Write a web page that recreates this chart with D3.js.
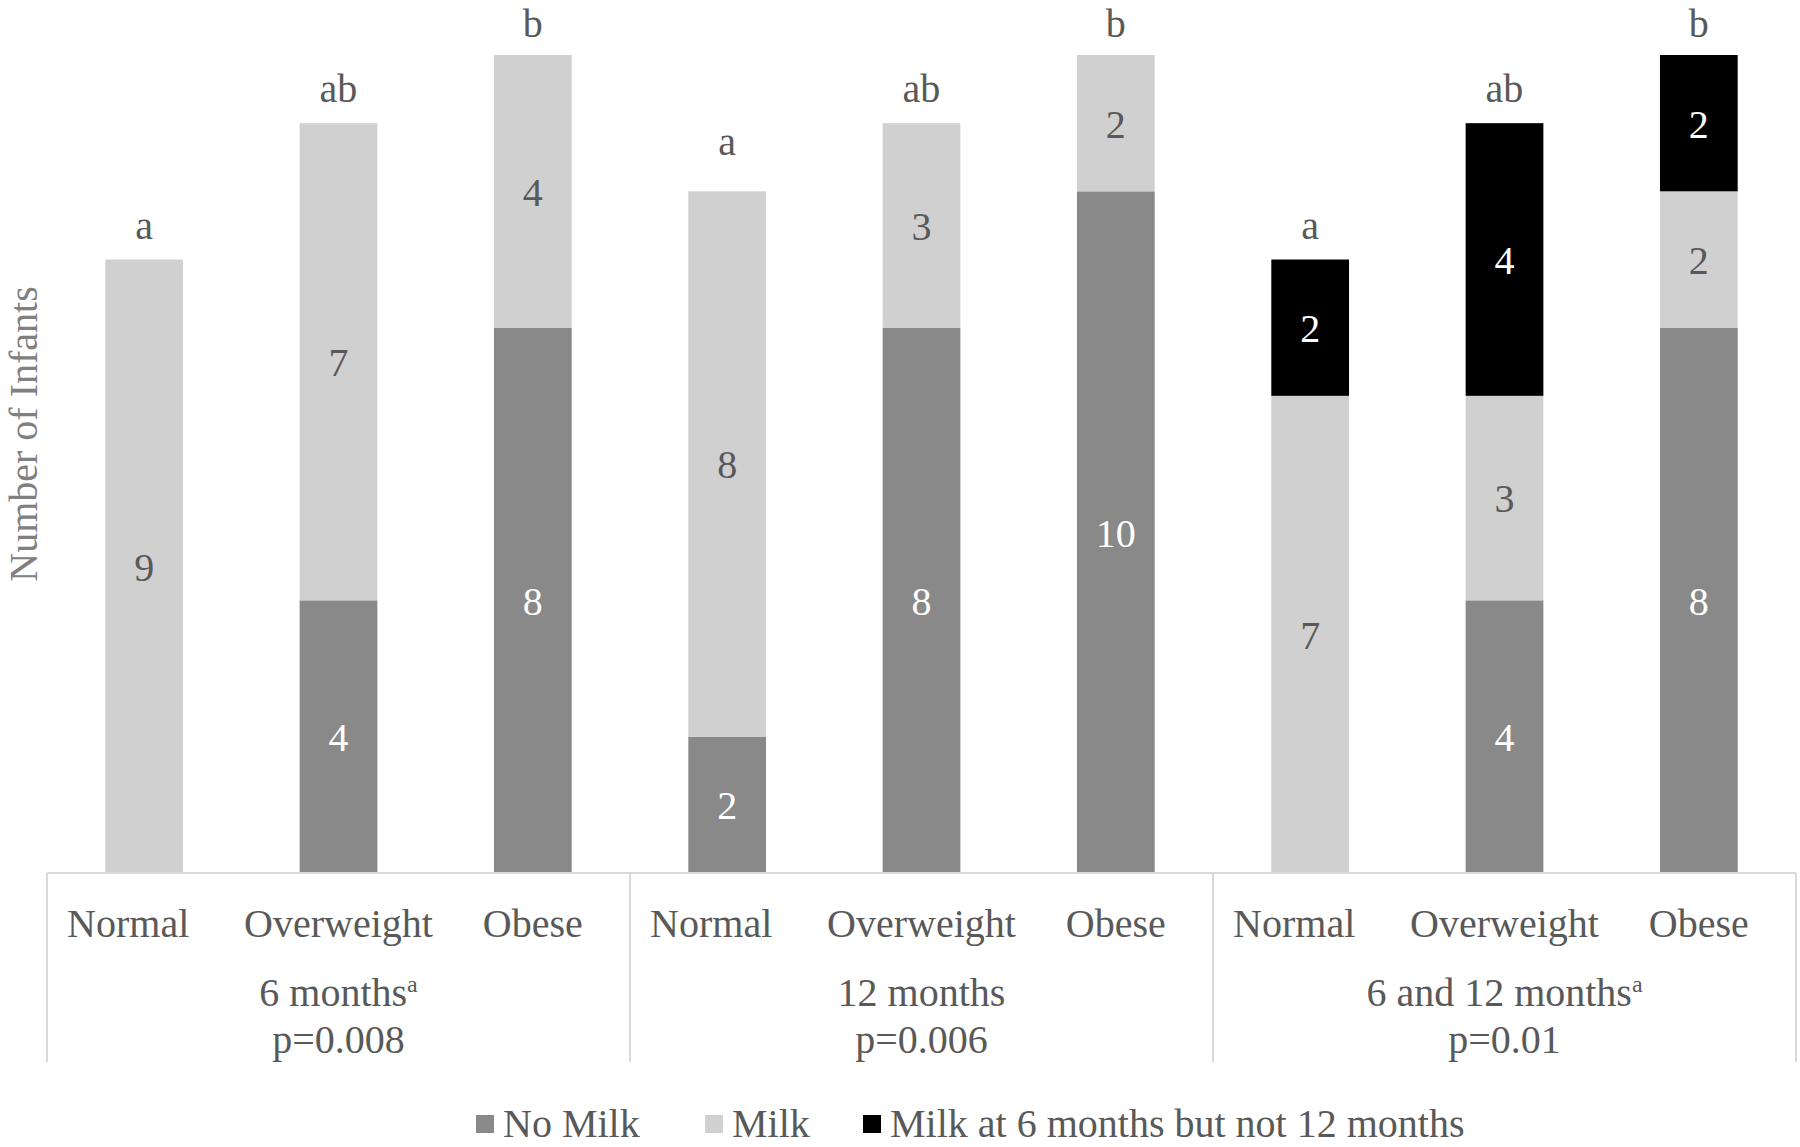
<!DOCTYPE html>
<html lang="en">
<head>
    <meta charset="UTF-8">
    <title>Milk intake by weight group</title>
    <style>
        body { margin: 0; background: #fff; }
        text { font-family: "Liberation Serif", "Times New Roman", serif; }
    </style>
</head>
<body>
<div id="chart"></div>

<script src="https://d3js.org/d3.v7.min.js"></script>
<script>
    // data
    var groups = ["6 months", "12 months", "6 and 12 months"];
    var groupSup = ["a", "", "a"];
    var groupP = ["p=0.008", "p=0.006", "p=0.01"];
    var weights = ["Normal", "Overweight", "Obese"];
    var series = ["No Milk", "Milk", "Milk at 6 months but not 12 months"];
    var noMilk = [0, 4, 8, 2, 8, 10, 0, 4, 8];
    var milk = [9, 7, 4, 8, 3, 2, 7, 3, 2];
    var milkSixOnly = [0, 0, 0, 0, 0, 0, 2, 4, 2];
    var sigLetters = ["a", "ab", "b", "a", "ab", "b", "a", "ab", "b"];

    // styling
    var colors = ["#898989", "#d0d0d0", "#000000"];
    var labelColors = ["#ffffff", "#595959", "#ffffff"];
    var textColor = "#595959";
    var sigGap = [21, 21, 18, 36, 21, 18, 21, 21, 18];   // letter lift above bar top
    var weightShift = [-16, 0, 0];                        // tick label nudge, as in the original

    let W = 1800, H = 1147;
    var svg = d3.select("#chart").append("svg")
        .attr("width", W)
        .attr("height", H);

    // one row per bar
    var rows = [];
    for (var g = 0; g < groups.length; g++) {
        for (var w = 0; w < weights.length; w++) {
            var i = g * weights.length + w;
            rows.push({key: i, group: g, w: w, weight: weights[w], vals: [noMilk[i], milk[i], milkSixOnly[i]], sig: sigLetters[i]});
        }
    }

    var x = d3.scaleBand().domain(rows.map(d => d.key)).range([47, 1796])
        .paddingInner(0.6).paddingOuter(0.3);
    var y = d3.scaleLinear().domain([0, 12]).range([873, 55]);

    // stacked segments
    var stacked = d3.stack().keys([0, 1, 2]).value((d, k) => d.vals[k])(rows);

    stacked.forEach(function (layer, k) {
        var g = svg.append("g");
        g.selectAll("rect").data(layer).enter()
            .append("rect")
            .attr("x", d => x(d.data.key))
            .attr("width", x.bandwidth())
            .attr("y", d => y(d[1]))
            .attr("height", d => y(d[0]) - y(d[1]))
            .attr("fill", colors[k]);

        g.selectAll("text").data(layer.filter(d => d[1] - d[0] > 0)).enter()
            .append("text")
            .attr("x", d => x(d.data.key) + x.bandwidth() / 2)
            .attr("y", d => (y(d[0]) + y(d[1])) / 2)
            .attr("dy", "0.36em")
            .attr("text-anchor", "middle")
            .style("font-size", "40px")
            .attr("fill", labelColors[k])
            .text(d => d[1] - d[0]);
    });

    // significance letters
    svg.append("g").selectAll("text").data(rows).enter()
        .append("text")
        .attr("x", d => x(d.key) + x.bandwidth() / 2)
        .attr("y", d => y(d3.sum(d.vals)) - sigGap[d.key])
        .attr("text-anchor", "middle")
        .style("font-size", "40px")
        .attr("fill", textColor)
        .text(d => d.sig);

    // category axis
    var axisY = y(0);
    var step = x.step();
    var x0 = x.range()[0];
    svg.append("line")
        .attr("x1", x0).attr("x2", x.range()[1])
        .attr("y1", axisY).attr("y2", axisY)
        .attr("stroke", "#d9d9d9").attr("stroke-width", 2);

    for (var s = 0; s <= groups.length; s++) {
        svg.append("line")
            .attr("x1", x0 + s * 3 * step).attr("x2", x0 + s * 3 * step)
            .attr("y1", axisY).attr("y2", 1062)
            .attr("stroke", "#d9d9d9").attr("stroke-width", 2);
    }

    svg.append("g").selectAll("text").data(rows).enter()
        .append("text")
        .attr("x", d => x(d.key) + x.bandwidth() / 2 + weightShift[d.w])
        .attr("y", 937)
        .attr("text-anchor", "middle")
        .style("font-size", "40px")
        .attr("fill", textColor)
        .text(d => d.weight);

    groups.forEach(function (name, g) {
        var cx = x0 + (g * 3 + 1.5) * step;
        var t = svg.append("text")
            .attr("x", cx).attr("y", 1006)
            .attr("text-anchor", "middle")
            .style("font-size", "40px")
            .attr("fill", textColor);
        t.append("tspan").text(name);
        if (groupSup[g]) {
            t.append("tspan").attr("dy", -14).style("font-size", "24px").text(groupSup[g]);
        }
        svg.append("text")
            .attr("x", cx).attr("y", 1053)
            .attr("text-anchor", "middle")
            .style("font-size", "40px")
            .attr("fill", textColor)
            .text(groupP[g]);
    });

    // y axis title
    svg.append("text")
        .attr("transform", "translate(37,434) rotate(-90)")
        .attr("text-anchor", "middle")
        .style("font-size", "40px")
        .attr("fill", "#808080")
        .text("Number of Infants");

    // legend
    var legendX = [476, 705, 863];
    var legend = svg.append("g").selectAll("g").data(series).enter()
        .append("g")
        .attr("transform", (d, i) => "translate(" + legendX[i] + ",0)");
    legend.append("rect")
        .attr("x", 0).attr("y", 1115)
        .attr("width", 18).attr("height", 18)
        .attr("fill", (d, i) => colors[i]);
    legend.append("text")
        .attr("x", 27).attr("y", 1137)
        .style("font-size", "40px")
        .attr("fill", textColor)
        .text(d => d);
</script>
</body>
</html>
